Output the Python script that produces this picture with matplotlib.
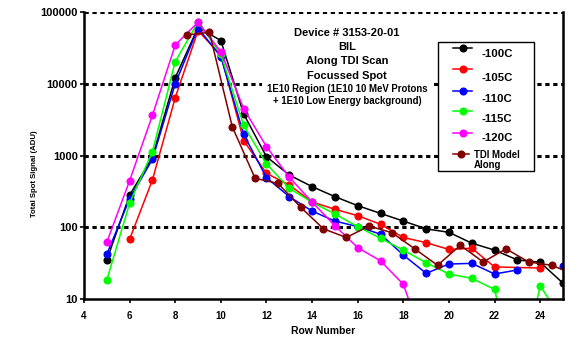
import numpy as np
import matplotlib
matplotlib.use("Agg")
import matplotlib.pyplot as plt
import matplotlib.patches as mpatches

plt.rcParams['font.family'] = ['Liberation Sans', 'DejaVu Sans']
plt.rcParams['font.weight'] = 'bold'

nan = np.nan

# ── Daten ────────────────────────────────────────────────────────────────────
rows_100 = [5, 6, 7, 8, 9, 10, 11, 12, 13, 14, 15, 16, 17, 18, 19, 20, 21, 22, 23, 24, 25]
sig_100 = [35, 281, 943, 12150, 61000, 40000, 3790, 962, 535, 368, 267, 200, 156,
           122, 95, 85, 60, 48, 35, 32.5, 16.6]

rows_105 = [6, 7, 8, 9, 10, 11, 12, 13, 14, 15, 16, 17, 18, 19, 20, 21, 22, 24]
sig_105 = [68, 456, 6400, 55000, 25000, 1610, 564, 388, 225, 178, 145, 110, 72,
           61, 49, 51, 28, 27]

rows_110 = [5, 6, 7, 8, 9, 10, 11, 12, 13, 14, 15, 16, 17, 18, 19, 20, 21, 22, 23, 24, 25]
sig_110 = [42, 250, 885, 10000, 59800, 23800, 1970, 491, 267, 168, 122, 102, 80,
           41, 22.8, 30.7, 31.4, 22.3, 25.4, nan, 28.8]

rows_115 = [5, 6, 7, 8, 9, 10, 11, 12, 13, 14, 15, 16, 17, 18, 19, 20, 21, 22, 23, 24, 25]
sig_115 = [18.4, 216, 1130, 20300, 72600, 25700, 2640, 762, 348, 223, 153, 102, 70,
           48, 32, 22.3, 19.4, 13.6, 0.6, 15.2, 5]

rows_120 = [5, 6, 7, 8, 9, 10, 11, 12, 13, 14, 15, 16, 17, 18, 19]
sig_120 = [62, 446, 3630, 34700, 72000, 28000, 4500, 1330, 497, 225, 105, 52, 34, 16, 2]

rows_tdi = [8.5, 9.5, 10.5, 11.5, 12.5, 13.5, 14.5, 15.5, 16.5, 17.5, 18.5, 19.5,
            20.5, 21.5, 22.5, 23.5, 24.5, 25.5]
sig_tdi = [47800, 52100, 2520, 481, 409, 190, 95, 72, 104, 84, 50, 29.5, 56, 32.8,
           50, 32.8, 29.5, 22]

series = [
    ("-100C", rows_100, sig_100, "black"),
    ("-105C", rows_105, sig_105, "#ff0000"),
    ("-110C", rows_110, sig_110, "#0000ff"),
    ("-115C", rows_115, sig_115, "#00ff00"),
    ("-120C", rows_120, sig_120, "#ff00ff"),
    ("TDI Model\nAlong", rows_tdi, sig_tdi, "#800000"),
]

title_lines = ["Device # 3153-20-01", "BIL", "Along TDI Scan", "Focussed Spot"]
note_lines = ["1E10 Region (1E10 10 MeV Protons", "+ 1E10 Low Energy background)"]

# ── Figur ────────────────────────────────────────────────────────────────────
W, H = 570, 337
fig = plt.figure(figsize=(W/100, H/100), dpi=100, facecolor='white')
ax = fig.add_axes([84/W, 1-299/H, (563-84)/W, (299-12)/H])

for name, xs, ys, col in series:
    ax.plot(xs, ys, color=col, lw=1.1, marker='o', ms=4.8, mec=col, mfc=col)

ax.set_yscale('log')
ax.set_ylim(10, 100000)
ax.set_xlim(4, 25)
ax.set_xticks(range(4, 26, 2))
ax.set_yticks([10, 100, 1000, 10000, 100000])
ax.set_yticklabels(["10", "100", "1000", "10000", "100000"])
ax.yaxis.set_minor_locator(matplotlib.ticker.NullLocator())
ax.tick_params(axis='y', labelsize=8, length=3, width=1.2, pad=1.5)
ax.tick_params(axis='x', labelsize=7, length=3, width=1.2, pad=5.5)
for lab in ax.get_xticklabels() + ax.get_yticklabels():
    lab.set_fontweight('bold')

ax.set_axisbelow(True)
ax.yaxis.grid(True, color='black', lw=2.2, ls=(0, (1.4, 1.2)))
ax.yaxis.get_gridlines()[0].set_visible(False)   # unten: durchgezogene Achse
for s in ('left', 'bottom', 'right'):
    ax.spines[s].set_linewidth(1.8)
ax.spines['top'].set_visible(False)

ax.set_xlabel("Row Number", fontsize=7.5, fontweight='bold')
ax.xaxis.set_label_coords(0.5, -0.094)
ax.set_ylabel("Total Spot Signal (ADU)", fontsize=5.6, fontweight='bold')
ax.yaxis.set_label_coords(-0.095, 0.435)

# ── Overlay in Pixelkoordinaten: Textbox + Legende ──────────────────────────
ov = fig.add_axes([0, 0, 1, 1])
ov.set_xlim(0, W); ov.set_ylim(H, 0)
ov.axis('off')

ov.add_patch(mpatches.Rectangle((262, 25), 171, 83, fc='white', ec='none'))
for txt, yy in zip(title_lines, [33, 47.5, 61.5, 76]):
    ov.text(347, yy, txt, ha='center', va='center', fontsize=8, fontweight='bold')
for txt, yy in zip(note_lines, [89, 101]):
    ov.text(347, yy, txt, ha='center', va='center', fontsize=6.9, fontweight='bold')

ov.add_patch(mpatches.Rectangle((438, 42), 96, 129, fc='white', ec='black', lw=1))
mark_y = [48.3, 69.3, 90.7, 111, 132.7, 154]
text_y = [54, 78, 99, 119, 138, 160]
for (name, xs, ys, col), my, ty in zip(series, mark_y, text_y):
    if name.startswith("TDI"):
        ov.plot([453, 469], [my, my], color=col, lw=1.1)
        ov.plot([461], [my], marker='o', ms=4.8, color=col)
        ov.text(474, ty, name, ha='left', va='center', fontsize=6.9,
                fontweight='bold', linespacing=1.0)
    else:
        ov.plot([453, 472], [my, my], color=col, lw=1.1)
        ov.plot([462.5], [my], marker='o', ms=4.8, color=col)
        ov.text(482, ty, name, ha='left', va='center', fontsize=8.2,
                fontweight='bold')

fig.savefig("out.png", dpi=100, facecolor='white')
